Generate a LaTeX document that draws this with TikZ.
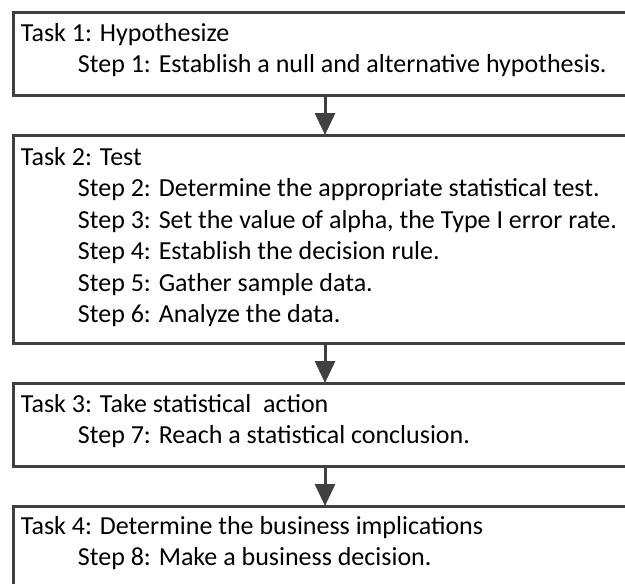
\documentclass[tikz,border=0pt]{standalone}
\usepackage{fontspec}
\setmainfont{Carlito}
\usetikzlibrary{positioning,arrows.meta}
\definecolor{boxgray}{HTML}{404040}
\newcommand{\stepline}{\\\hspace*{42.75pt}}

\begin{document}
\begin{tikzpicture}[
  x=0.75pt, y=-0.75pt, node distance=30pt,
  >={Triangle[width=15pt,length=16.5pt]},
  taskbox/.style={draw=boxgray, line width=2.25pt, outer sep=0pt, inner sep=0pt,
                  minimum width=467.25pt, minimum height=62.25pt},
  tasktext/.style={anchor=base west, align=left, inner sep=0pt,
                   font=\fontsize{19.5}{23.625}\selectfont},
  flow/.style={->, draw=boxgray, line width=2.25pt}]
  \useasboundingbox (0,0) rectangle (625,583);
  \clip (0,0) rectangle (625,583);
  \node[taskbox] (task1) at (325,53.5) {};
  \node[taskbox, below=of task1, minimum height=156pt] (task2) {};
  \node[taskbox, below=of task2] (task3) {};
  \node[taskbox, below=of task3] (task4) {};
  % text nodes sit on the baseline of their last line
  \node[tasktext] (txt1) at ([shift={(7.2,60.5)}]task1.north west)
    {Task 1: Hypothesize\stepline Step 1: Establish a null and alternative hypothesis.};
  \node[tasktext] (txt2) at ([shift={(7.2,187.5)}]task2.north west)
    {Task 2: Test\stepline Step 2: Determine the appropriate statistical test.%
     \stepline Step 3: Set the value of alpha, the Type I error rate.%
     \stepline Step 4: Establish the decision rule.%
     \stepline Step 5: Gather sample data.%
     \stepline Step 6: Analyze the data.};
  \node[tasktext] (txt3) at ([shift={(7.2,60.5)}]task3.north west)
    {Task 3: Take statistical\ \ action\stepline Step 7: Reach a statistical conclusion.};
  \node[tasktext] (txt4) at ([shift={(7.2,59.5)}]task4.north west)
    {Task 4: Determine the business implications\stepline Step 8: Make a business decision.};
  \draw[flow] (task1) -- (task2);
  \draw[flow] (task2) -- (task3);
  \draw[flow] (task3) -- (task4);
\end{tikzpicture}
\end{document}
